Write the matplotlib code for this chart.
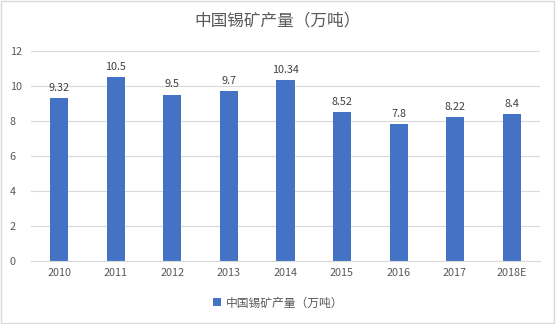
import matplotlib.pyplot as plt
import numpy as np
from matplotlib.patches import Rectangle

plt.rcParams['font.family'] = ['Noto Sans CJK SC', 'DejaVu Sans']

years = ['2010', '2011', '2012', '2013', '2014', '2015', '2016', '2017', '2018E']
output = [9.32, 10.5, 9.5, 9.7, 10.34, 8.52, 7.8, 8.22, 8.4]
label_text = ['9.32', '10.5', '9.5', '9.7', '10.34', '8.52', '7.8', '8.22', '8.4']
series_name = '中国锡矿产量（万吨）'

fig = plt.figure(figsize=(5.56, 3.24), dpi=100)
ax = fig.add_axes([0.056, 0.194, 0.915, 0.649])

x = np.arange(len(years))
bars = ax.bar(x, output, width=0.32, color='#4472C4', label=series_name, zorder=2)
for xi, v, t in zip(x, output, label_text):
    ax.text(xi, v + 0.3, t, ha='center', va='bottom', fontsize=7.8, color='#404040')

ax.set_xlim(-0.5, len(years) - 0.5)
ax.set_ylim(0, 12)
ax.set_yticks(range(0, 13, 2))
ax.set_xticks(x)
ax.set_xticklabels(years)
ax.tick_params(axis='both', length=0, labelsize=7.8, colors='#595959')
ax.tick_params(axis='y', pad=15.5)
ax.tick_params(axis='x', pad=5)
ax.grid(axis='y', color='#D9D9D9', linewidth=0.8, zorder=0)
for s in ['top', 'right', 'left']:
    ax.spines[s].set_visible(False)
ax.spines['bottom'].set_color('#D9D9D9')
for lbl in ax.get_yticklabels():
    lbl.set_horizontalalignment('left')

fig.text(0.5, 0.935, series_name, ha='center', va='center', fontsize=12, color='#595959')
fig.legend(handles=[bars], labels=[series_name], loc='center', bbox_to_anchor=(0.5, 0.065),
           frameon=False, fontsize=8.5, handlelength=0.7, handleheight=0.7,
           handletextpad=0.4, labelcolor='#595959')

fig.patches.append(Rectangle((0.002, 0.003), 0.994, 0.994, transform=fig.transFigure,
                             fill=False, edgecolor='#D9D9D9', linewidth=1))

fig.savefig('out.png', dpi=100)
